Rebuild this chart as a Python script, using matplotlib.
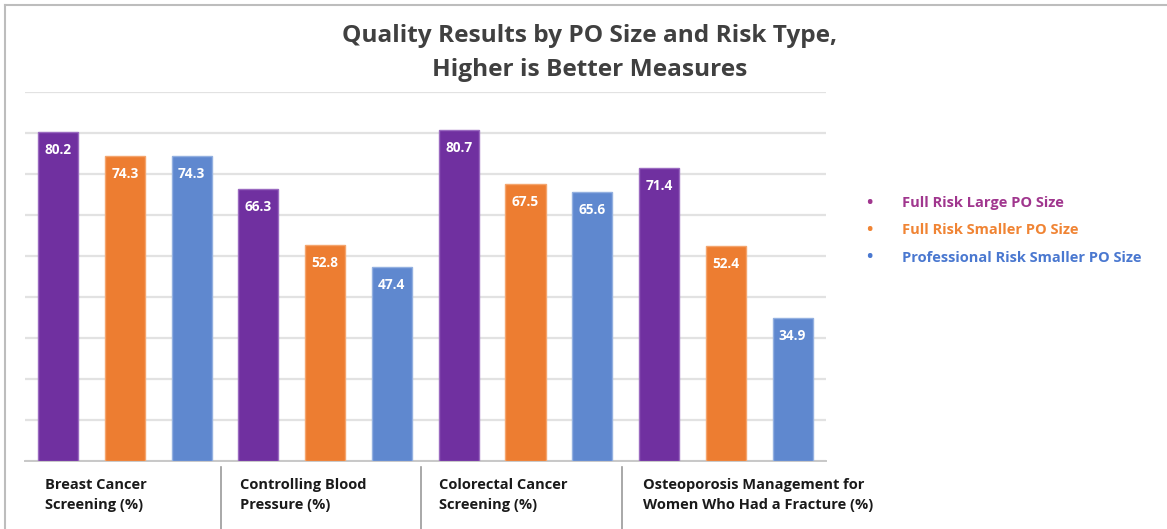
"""Quality results by PO size and risk type - grouped bar chart."""
import matplotlib.pyplot as plt
import numpy as np
from matplotlib.lines import Line2D
from matplotlib.transforms import blended_transform_factory

plt.rcParams["font.family"] = ["Open Sans", "DejaVu Sans"]

measures = [
    "Breast Cancer\nScreening (%)",
    "Controlling Blood\nPressure (%)",
    "Colorectal Cancer\nScreening (%)",
    "Osteoporosis Management for\nWomen Who Had a Fracture (%)",
]
series_names = [
    "Full Risk Large PO Size",
    "Full Risk Smaller PO Size",
    "Professional Risk Smaller PO Size",
]
full_large = [80.2, 66.3, 80.7, 71.4]
full_small = [74.3, 52.8, 67.5, 52.4]
prof_small = [74.3, 47.4, 65.6, 34.9]

bar_colors = ["#7030A0", "#ED7D31", "#5F88CF"]
edge_colors = ["#9A6AC0", "#F4A56E", "#93B0E0"]
legend_colors = ["#A0368E", "#F08434", "#4A78D0"]

fig = plt.figure(figsize=(11.67, 5.29), dpi=100)
ax = fig.add_axes([24.6 / 1167, 1 - 461 / 529, (826 - 24.6) / 1167, 369 / 529])

n_series = 3
for s, vals in enumerate([full_large, full_small, prof_small]):
    x = np.arange(len(vals)) * n_series + s
    bars = ax.bar(x, vals, width=0.6, color=bar_colors[s],
                  edgecolor=edge_colors[s], linewidth=1, zorder=3)
    for b, v in zip(bars, vals):
        ax.annotate(f"{v:.1f}", (b.get_x() + b.get_width() / 2, v),
                    xytext=(0, -13), textcoords="offset points",
                    ha="center", va="center", color="white",
                    fontsize=9.8, fontweight="bold", zorder=4)

ax.set_xlim(-0.5, len(measures) * n_series - 0.5)
ax.set_ylim(0, 90)
ax.set_yticks(np.arange(0, 91, 10))
ax.yaxis.grid(True, color="#E2E2E2", linewidth=1.6, zorder=0)
ax.set_axisbelow(True)
ax.tick_params(left=False, bottom=False, labelleft=False, labelbottom=False)
for side in ["top", "right", "left"]:
    ax.spines[side].set_visible(False)
ax.spines["bottom"].set_color("#C8C8C8")
ax.spines["bottom"].set_linewidth(1.4)

# category labels under the axis with separators
trans = blended_transform_factory(ax.transData, fig.transFigure)
label_x = [-0.2, 2.72, 5.7, 8.76]
for g, label in enumerate(measures):
    ax.text(label_x[g], 1 - 478 / 529, label, transform=trans,
            ha="left", va="top", fontsize=10.5, fontweight="bold",
            color="#1A1A1A", linespacing=1.5)
    if g > 0:
        ax.add_line(Line2D([g * n_series - 0.56] * 2, [0, 1 - 467 / 529],
                           transform=trans, color="#9A9A9A", linewidth=1.2,
                           clip_on=False))

# figure frame (top and left only)
fig.add_artist(Line2D([4.5 / 1167, 1], [1 - 4.5 / 529] * 2,
                      transform=fig.transFigure, color="#BDBDBD", linewidth=1.5))
fig.add_artist(Line2D([4.5 / 1167] * 2, [0, 1 - 4.5 / 529],
                      transform=fig.transFigure, color="#BDBDBD", linewidth=1.5))

fig.text(590 / 1167, 1 - 53 / 529,
         "Quality Results by PO Size and Risk Type,\nHigher is Better Measures",
         ha="center", va="center", fontsize=17.6, fontweight="bold",
         color="#404040", linespacing=1.55)

# legend as colored bullet text
for i, (name, c) in enumerate(zip(series_names, legend_colors)):
    y = 1 - (203 + 27.5 * i) / 529
    fig.text(869 / 1167, y, "\u2022", ha="center", va="center",
             fontsize=16, color=c)
    fig.text(902 / 1167, y, name, ha="left", va="center",
             fontsize=10.5, fontweight="bold", color=c)

fig.savefig("out.png", dpi=100)
